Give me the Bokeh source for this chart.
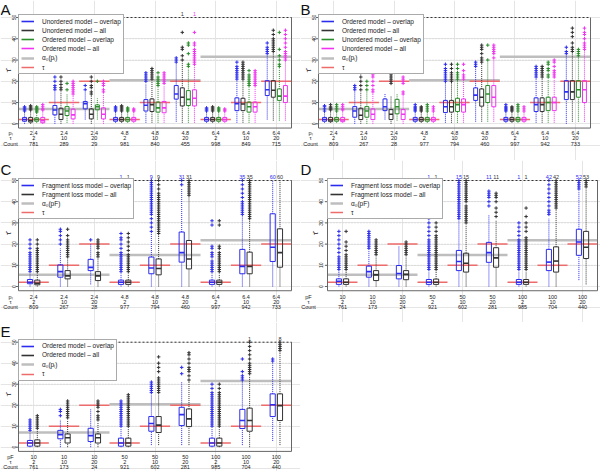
import math
from bokeh.plotting import figure
from bokeh.models import Legend, LegendItem, Range1d, Spacer
from bokeh.layouts import row, column
from bokeh.embed import file_html
from bokeh.resources import INLINE
from bokeh.core.properties import value

FONT = "Liberation Sans"

# ---------------- data ----------------
PL_AB = ["2.4", "2.4", "2.4", "4.8", "4.8", "4.8", "6.4", "6.4", "6.4"]
PF_DE = ["10", "10", "10", "50", "50", "50", "100", "100", "100"]
TAU = [2, 10, 20, 2, 10, 20, 2, 10, 20]
COUNT_A = [781, 289, 29, 981, 840, 455, 998, 849, 715]
COUNT_BC = [809, 267, 28, 977, 794, 460, 997, 942, 733]
COUNT_DE = [761, 173, 24, 921, 602, 281, 985, 704, 440]
ALPHA_ABE = [7.0, 20.5, 31.5]
ALPHA_CD = [5.5, 14.8, 21.8]
YTICKS = [0, 10, 20, 30, 40, 50]
GRID_Y = [10, 20, 30, 40]

# box stats per group: (low whisker, q1, median, q3, high whisker)
A_UO = [(0, 1.2, 2, 3, 5.5), (0, 4.2, 6.5, 8.6, 15), (2, 7, 9.5, 10.5, 15), (0.5, 1.2, 2, 3, 5.5), (0.5, 6, 8.7, 11.4, 19),
        (1, 11.6, 14, 18, 28), (0.5, 1.2, 2, 3, 5.5), (0.5, 6.2, 9.5, 12.2, 20), (2, 13.3, 16, 20.3, 32)]
A_UO_OUT = [[6, 6.5, 7, 7.5, 8], [16, 17, 18, 20, 22], [16, 18], [6, 6.5, 7, 7.5, 8], [20, 21, 22, 23, 24],
            [29, 30, 31], [6, 6.5, 7, 7.5], [21, 22, 23, 24, 25, 26, 27, 29], [33, 34, 35, 36, 38]]
A_UA = [(0, 0.8, 1.5, 3, 6), (0, 2, 4.5, 7.3, 15), (0, 2.3, 4.5, 7, 13), (0.5, 1.2, 2, 3, 5.5), (0.5, 5.8, 9, 11.7, 20),
        (0.5, 8.4, 12.5, 16.9, 29), (0.5, 1.2, 2, 3, 5.5), (0.5, 6.2, 9.3, 12, 20), (1.5, 12.5, 15.8, 20.3, 33)]
A_UA_OUT = [[6.5, 7, 7.5, 8, 8.5], [16, 17, 18.5, 20, 22], [14, 15, 17, 18, 20, 22], [6, 6.5, 7, 7.5, 8, 8.5],
            [21, 22, 23, 24, 25, 26], [30, 32, 35, 36, 43], [6, 6.5, 7, 7.5, 8],
            [21, 22, 23, 24, 25, 26, 27, 28, 29], [34, 35, 36, 37, 38, 39, 40, 42, 44]]
A_OO = [(0.5, 1.2, 2, 2.8, 5), (0.5, 3.9, 6, 8.1, 14), (2, 6.6, 8, 8.9, 12), (0.5, 1.2, 2, 3, 5.5), (0.5, 5.5, 7.5, 10.2, 17),
        (0.5, 8.6, 11.5, 15.6, 26), (0.5, 1.2, 2, 3, 5.5), (0.5, 5.5, 8, 10.2, 17), (1.5, 11, 13, 16.4, 26)]
A_OO_OUT = [[5.5, 6, 6.5, 7, 7.5, 8], [16, 19], [20], [6, 6.5, 7, 7.5], [18, 19, 20, 21, 22, 24],
            [27, 28, 33, 37, 38], [6, 6.5, 7, 7.5], [18, 19, 20, 21, 22, 23, 25], [27, 28, 30, 32, 35, 43]]
A_OA = [(0, 0.5, 1.5, 3, 6), (0, 2.3, 4.2, 6.9, 13), (0, 2.3, 4.5, 7.5, 14), (0.5, 1.2, 2, 3, 5.5), (0.5, 5.2, 7.5, 10.5, 18),
        (0.5, 8.4, 12, 16, 27), (0.5, 1.2, 2, 3, 5.5), (0.5, 5.5, 8, 10.2, 17), (1.5, 10, 13, 18, 29)]
A_OA_OUT = [[6.5, 7, 8, 9], [14, 15, 16, 17, 18, 19, 20], [15, 16, 18, 19, 20], [6, 6.5, 7], [19, 20, 21, 22, 23, 24],
            [28, 29, 30, 31, 32, 33, 34, 35, 37, 38, 43], [6, 6.5, 7], [18, 19, 20, 21, 22, 23, 24, 25],
            [30, 31, 32, 33, 34, 36, 38, 40, 42, 44]]
A_TOP_UA = ["", "", "", "", "", "1", "", "", ""]
A_TOP_OA = ["", "", "", "", "", "1", "", "", ""]

B_OO = [(0.5, 1.2, 2, 3, 5.5), (0, 3.1, 6, 8.1, 15), (2, 6.2, 8, 11.7, 14), (0.5, 1.2, 2, 3, 5.5), (0.5, 5.3, 8, 11, 19),
        (1, 11, 13.5, 16.9, 26), (0.5, 1.2, 2, 3, 5.5), (0.5, 5.8, 9, 12.2, 21), (0, 11.4, 15, 20.3, 32)]
B_OO_OUT = [[6, 7, 8, 8.5], [16, 17, 18], [], [6, 6.5, 7, 7.5, 8, 9], [20, 21, 22, 23, 24, 25, 26, 28], [27, 28, 29],
            [6, 6.5, 7, 7.5, 8, 9], [22, 23, 24, 25, 26, 27], [33, 34, 36]]
B_OA = [(0.5, 1, 1.8, 3, 6), (0, 2, 4, 7.3, 15), (0, 2, 4.5, 6.7, 13), (0.5, 1.2, 2, 3, 5.5), (0.5, 5.5, 8, 11, 19),
        (1, 8.3, 12.5, 16.4, 28), (0.5, 1.2, 2, 3, 5.5), (0.5, 5.8, 9, 12.2, 21), (1, 11.4, 15, 20.3, 33)]
B_OA_OUT = [[6.5, 7, 7.5, 8, 9], [16, 18, 20, 22, 24], [19, 20, 21, 22, 23, 25], [6, 6.5, 7, 7.5, 8],
            [20, 21, 22, 23, 24, 26, 28], [29, 30, 31, 33, 35, 36, 37], [6, 6.5, 7, 7.5, 8], [22, 23, 24, 25, 26, 27],
            [34, 35, 36, 38, 41, 43, 45]]
B_UO = [(0.5, 1.2, 2, 3, 5.5), (0, 3.1, 6, 8.1, 15), (1.5, 4.7, 8, 11.5, 14), (0.5, 1.2, 2, 3, 5.5), (0.5, 5.8, 9, 12, 20),
        (1, 10, 14, 18, 29), (0.5, 1.2, 2, 3, 5.5), (0.5, 6.2, 10, 12.5, 21), (1, 12.5, 16, 20.3, 31)]
B_UO_OUT = [[6, 7, 8, 9], [16, 18, 20], [], [6, 7, 8, 9], [21, 22, 23, 24, 26, 28], [30, 37], [6, 7, 8, 9],
            [22, 23, 25, 26, 28, 29], [32, 33, 34, 35]]
B_UA = [(0.5, 1, 1.8, 3, 6), (0, 2, 4.5, 7, 14), (0, 2, 4.5, 6.7, 13), (0.5, 1.2, 2, 3, 5.5), (0.5, 5.5, 9, 11.7, 20),
        (1, 8, 12.5, 18, 30), (0.5, 1.2, 2, 3, 5.5), (0.5, 6.2, 10, 12.5, 21), (1, 10, 16, 20.3, 34)]
B_UA_OUT = [[6.5, 7, 8, 9], [15, 16, 18, 20, 22, 23], [14, 15, 19, 20, 21, 22, 25], [6, 7, 8], [21, 22, 23, 25, 28],
            [31, 33, 34, 35, 36, 37], [6, 7, 8], [22, 23, 24, 25, 27, 29, 30], [35, 36, 37, 38, 40, 42, 43, 45]]

C_FO = [(0, 1.3, 2, 3.3, 6), (0, 4.4, 7, 10.2, 18), (1, 7.5, 9, 12.8, 20), (0, 1, 2, 3, 6), (0, 6, 8.7, 13.9, 25),
        (0, 11.5, 16, 25.7, 46), (0, 1, 2, 3, 6), (0, 6, 9.5, 17.5, 33), (0, 11.8, 18.5, 34.3, 50)]
C_FO_OUT = [[7, 8, 9, 10, 11, 12, 13, 14, 15, 16, 18, 20, 22], [20, 22, 24, 26, 27], [22],
            [7, 8, 9, 10, 11, 12, 13, 14, 15, 16, 18, 20, 22, 23, 25, 40],
            [26, 28, 30, 32, 34, 35, 36, 37, 38, 39, 40, 41, 42, 43, 44, 45, 46, 47, 48, 49, 50], [48, 50],
            [7, 8, 9, 10, 11, 12, 14, 15, 16, 18, 19, 29, 31], [34, 35, 36, 37, 38, 39, 40, 42, 44, 46, 48, 50], []]
C_FA = [(0, 0.8, 1.5, 3, 6), (0, 3.6, 5, 7.5, 13), (0, 2.8, 5, 7, 13), (0, 1, 2, 3, 6), (0, 5.5, 8.5, 13, 24),
        (0, 8.3, 13, 21.7, 42), (0, 1, 2, 3, 6), (0, 6, 9.5, 16.2, 31), (0, 9.1, 16, 27.2, 50)]
C_FA_OUT = [[7, 8, 9, 10, 11, 12, 13, 14, 15, 16, 17, 18, 20, 22], [14, 15, 16, 17, 18, 19, 20, 21, 22, 24, 27],
            [14, 15, 16, 18, 19, 20, 21, 22], [7, 8, 9, 10, 11, 12, 13, 14, 15, 17, 19, 21, 23, 25, 40],
            [25, 26, 27, 28, 29, 30, 31, 32, 33, 34, 35, 36, 37, 38, 39, 40, 41, 42, 43, 44, 46, 48, 50],
            [43, 44, 45, 46, 47, 48, 49, 50], [7, 8, 9, 10, 11, 12, 13, 14, 15, 16, 18, 19, 29, 31],
            [32, 33, 34, 35, 36, 37, 38, 39, 40, 41, 42, 43, 44, 45, 46, 47, 48, 49, 50], []]
C_TOP_FO = ["", "", "", "1", "9", "31", "", "35", "60"]
C_TOP_FA = ["", "", "", "1", "9", "31", "", "35", "60"]

D_FO = [(0, 1, 2.5, 3.6, 7), (0, 4.4, 7, 9.6, 17), (0, 3.6, 6.1, 9.9, 19), (0, 1, 2, 3.3, 7), (0, 7.5, 11.8, 17, 31),
        (0, 11.4, 16, 20.8, 34), (0, 1, 2, 3.3, 7), (0, 7.5, 11.5, 17.5, 32), (3, 14.7, 21, 27, 45)]
D_FO_OUT = [[8, 9, 10, 11, 12, 13, 14, 16, 18, 20, 22, 24, 26], [18, 19, 20, 21, 22, 23, 24, 25, 26], [],
            [8, 9, 10, 11, 12, 13, 14, 15, 16, 17, 18, 19, 20, 21, 22, 24, 26, 28, 30, 32, 36, 40, 42],
            [32, 33, 34, 35, 36, 37, 38, 39, 40, 41, 42, 43, 44, 45, 46, 47, 48, 49, 50], [38, 40, 42, 43, 44, 45],
            [8, 9, 10, 11, 12, 13, 14, 15, 16, 17, 18, 19, 20, 21, 22, 24, 26, 28, 30],
            [34, 35, 36, 38, 40, 42, 44, 46, 48, 50], [46, 47, 48, 49, 50]]
D_FA = [(0, 1, 2, 3.6, 7), (0, 2.8, 5.5, 7.5, 14), (0, 3.2, 5.7, 7.5, 14), (0, 1, 2, 3.5, 7), (0, 6.8, 11, 15.7, 29),
        (0, 9.1, 13.5, 18.3, 31), (0, 1, 2, 3.3, 7), (0, 6.8, 12, 18.7, 36), (1, 13.2, 18.5, 26, 46)]
D_FA_OUT = [[8, 9, 10, 11, 12, 13, 14, 15, 17, 19, 21, 26], [15, 16, 17, 18, 19, 20, 21, 22],
            [15, 16, 17, 18, 19, 20, 21],
            [8, 9, 10, 11, 12, 13, 14, 15, 16, 17, 18, 19, 20, 21, 22, 23, 24, 26, 28, 30, 33, 38, 40, 43],
            [30, 31, 32, 33, 34, 35, 36, 37, 38, 40, 41, 42, 43, 44, 45, 46, 47, 48, 49, 50],
            [33, 35, 37, 40, 42, 43, 44],
            [8, 9, 10, 11, 12, 13, 14, 15, 16, 17, 18, 19, 20, 21, 22, 23, 26, 28, 30, 33, 37],
            [37, 38, 39, 40, 41, 42, 43, 44, 45, 46, 47, 48, 49, 50], [47, 48, 49, 50]]
D_TOP_FO = ["", "", "", "1", "15", "11", "1", "42", "52"]
D_TOP_FA = ["", "", "", "1", "15", "11", "1", "42", "53"]

E_OO = [(0, 0.5, 2, 3.2, 7), (0, 4, 6, 8, 13), (0, 2.7, 5.5, 9, 18), (0, 0.5, 2, 4.3, 9), (1, 7.6, 11.3, 14.6, 25),
        (1, 10.3, 15.5, 19, 31), (0, 0.5, 2, 4.3, 9), (1, 8.9, 12.7, 18, 31), (3, 14.6, 20.2, 25.4, 40)]
E_OO_OUT = [[8, 9, 10, 11, 12, 13], [15, 17, 18], [], [10, 11, 12, 13, 14, 15, 16, 17, 18, 19, 20, 21, 22],
            [26, 27, 28, 29, 30, 31], [35, 38],
            [10, 11, 12, 13, 14, 15, 16, 17, 18, 19, 20, 21, 22, 23, 24, 25, 26, 28, 30], [32, 33, 34, 36, 42], [41, 42]]
E_OA = [(0, 0.5, 2, 3.5, 8), (0, 2, 4.5, 6.3, 13), (0, 2, 4.5, 6.3, 12), (0, 0.5, 2, 4.3, 9), (1, 7, 10.5, 14.6, 25),
        (1, 9.8, 13.5, 18.2, 31), (0, 0.5, 2, 4.3, 9), (0, 7.6, 12.7, 18.6, 34), (1, 12.7, 19.8, 25.4, 45)]
E_OA_OUT = [[9, 10, 11, 12, 13, 14, 15], [14, 15, 16, 17, 18, 19, 20, 21, 22], [13, 14, 15, 17, 19, 20, 21, 22],
            [10, 11, 12, 13, 14, 15, 16, 17, 18, 19, 20, 21, 22, 23, 24, 25],
            [26, 27, 28, 29, 30, 31, 32, 33, 36, 38, 40, 43], [32, 34, 36, 37, 38, 40, 42, 44, 45],
            [10, 11, 12, 13, 14, 15, 16, 17, 18, 19, 20, 21, 22, 23, 24, 25, 26, 28, 30],
            [35, 36, 37, 38, 39, 40, 42, 44, 46, 48, 50], [46, 47, 48, 49, 50]]
E_TOP_OA = ["", "", "", "", "", "", "", "1", "8"]

# ---------------- styles ----------------
BLUE = "#2C2CEE"
BLACK = "#333333"
GREEN = "#2A8C2A"
MAGENTA = "#F033F0"
RED = "#EE6B6B"
GRAY = "#BEBEBE"
OFF4 = [-0.3, -0.1, 0.1, 0.3]
OFF2 = [-0.12, 0.12]
X0, X1 = -0.5, 8.5
YLO, YHI = -2.0, 50.0


def make_panel(letter, W, H, L, fw, py50, py0, rows_py, head_cx, ytick_cx, ylab_cx,
               series, outs, colors, offsets, bw, tops, head1, row1, counts, alpha,
               leg_labels, alpha_label):
    ux = fw / (X1 - X0)
    uy = (py0 - py50) / 50.0

    def xd(px):
        return X0 + (px - L) / ux

    def yd(py):
        return (py0 - py) / uy

    p = figure(width=W, height=H, x_range=Range1d(xd(0), xd(W)), y_range=Range1d(yd(H), yd(0)),
               x_axis_location=None, y_axis_location=None, toolbar_location=None,
               output_backend="svg", min_border=0)
    p.min_border_left = p.min_border_right = p.min_border_top = p.min_border_bottom = 0
    p.outline_line_color = None
    p.background_fill_color = "white"
    p.border_fill_color = "white"

    def txt(xs, ys, texts, size, color="#222222", align="center", baseline="middle", angle=0.0):
        p.text(x=list(xs), y=list(ys), text=list(texts), text_font=value(FONT), text_font_size=size,
               text_color=color, text_align=align, text_baseline=baseline, angle=angle)

    # grid
    p.segment(x0=[X0] * len(GRID_Y), x1=[X1] * len(GRID_Y), y0=GRID_Y, y1=GRID_Y,
              line_color="#D0D0D0", line_dash="1 2", line_width=1)

    # alpha lines (one per block of three groups)
    ax0 = [3 * k - 0.5 for k in range(len(alpha))]
    ax1 = [3 * k + 2.5 for k in range(len(alpha))]
    r_alpha = p.segment(x0=ax0, x1=ax1, y0=alpha, y1=alpha, line_color=GRAY, line_width=2.5)
    # tau lines
    gx = list(range(len(TAU)))
    r_tau = p.segment(x0=[g - 0.5 for g in gx], x1=[g + 0.5 for g in gx], y0=TAU, y1=TAU,
                      line_color=RED, line_width=1.5)

    med_renderers = []
    for k, (stats, out, col, off) in enumerate(zip(series, outs, colors, offsets)):
        xs = [g + off for g in gx]
        lo = [s[0] for s in stats]
        q1 = [s[1] for s in stats]
        md = [s[2] for s in stats]
        q3 = [s[3] for s in stats]
        hi = [s[4] for s in stats]
        p.segment(x0=xs, x1=xs, y0=q3, y1=hi, line_color=col, line_dash="1 1", line_width=1)
        p.segment(x0=xs, x1=xs, y0=lo, y1=q1, line_color=col, line_dash="1 1", line_width=1)
        p.quad(left=[x - bw / 2 for x in xs], right=[x + bw / 2 for x in xs], bottom=q1, top=q3,
               fill_color=None, line_color=col, line_width=1)
        rm = p.segment(x0=[x - bw / 2 for x in xs], x1=[x + bw / 2 for x in xs], y0=md, y1=md,
                       line_color=col, line_width=1.6)
        med_renderers.append(rm)
        ox, oy = [], []
        for x, vals in zip(xs, out):
            for v in vals:
                ox.append(x)
                oy.append(v)
        p.scatter(ox, oy, marker="cross", size=3.5, line_color=col, line_width=1)
        if tops[k] is not None:
            txt(xs, [yd(py50 - 1.5)] * len(xs), tops[k], "5.5px", color=col, baseline="bottom")

    # plot box: solid sides and dotted top
    p.line(x=[X0, X0, X1, X1], y=[YHI, YLO, YLO, YHI], line_color="#666666", line_width=1)
    p.segment(x0=[X0], x1=[X1], y0=[YHI], y1=[YHI], line_color="#333333", line_dash="2 2",
              line_width=1)
    # y ticks
    p.segment(x0=[xd(L - 2.5)] * len(YTICKS), x1=[X0] * len(YTICKS), y0=YTICKS, y1=YTICKS,
              line_color="#666666", line_width=1)

    # legend (top-left corner flush with plot box)
    n = len(leg_labels) + 2
    pad, ih, sp = 2, 8, 1
    leg_h = 2 * pad + n * ih + (n - 1) * sp
    items = [LegendItem(label=lab, renderers=[r]) for lab, r in zip(leg_labels, med_renderers)]
    items.append(LegendItem(label=alpha_label, renderers=[r_alpha]))
    items.append(LegendItem(label="τ", renderers=[r_tau]))
    leg = Legend(items=items, location=(L, H - py50 - leg_h), margin=0, padding=pad, spacing=sp,
                 glyph_width=13, glyph_height=ih, label_height=ih, label_standoff=8,
                 label_text_font=FONT, label_text_font_size="6.5px", label_text_color="#222222",
                 border_line_color="#555555", border_line_width=1, background_fill_alpha=1.0)
    p.add_layout(leg)

    # y tick labels and axis label
    txt([xd(ytick_cx)] * len(YTICKS), YTICKS, [str(t) for t in YTICKS], "5px", angle=math.pi / 2)
    txt([xd(ylab_cx)], [25], ["τ̂"], "8px", angle=math.pi / 2)

    # bottom rows
    rows_txt = [row1, [str(t) for t in TAU], [str(c) for c in counts]]
    heads = [head1, "τ", "Count"]
    for py, rt, hd in zip(rows_py, rows_txt, heads):
        txt(gx, [yd(py)] * len(gx), rt, "5.5px")
        txt([xd(head_cx)], [yd(py)], [hd], "5.5px")

    # panel letter
    txt([xd(0)], [yd(0)], [letter], "15px", color="#111111", align="left", baseline="top")
    return p


pA = make_panel("A", 300, 160, 18, 273, 17, 123.3, [132.3, 137.7, 143.3], 10, 13.5, 8,
                [A_UO, A_UA, A_OO, A_OA], [A_UO_OUT, A_UA_OUT, A_OO_OUT, A_OA_OUT],
                [BLUE, BLACK, GREEN, MAGENTA], OFF4, 0.13, [None, A_TOP_UA, None, A_TOP_OA],
                "pₗ", PL_AB, COUNT_A, ALPHA_ABE,
                ["Unordered model – overlap", "Unordered model – all", "Ordered model – overlap",
                 "Ordered model – all"], "α₀(pₗ)")
pB = make_panel("B", 300, 160, 18, 272, 17, 123.3, [132.3, 137.7, 143.3], 10, 13.5, 8,
                [B_OO, B_OA, B_UO, B_UA], [B_OO_OUT, B_OA_OUT, B_UO_OUT, B_UA_OUT],
                [BLUE, BLACK, GREEN, MAGENTA], OFF4, 0.13, [None, None, None, None],
                "pₗ", PL_AB, COUNT_BC, ALPHA_ABE,
                ["Ordered model – overlap", "Ordered model – all", "Unordered model – overlap",
                 "Unordered model – all"], "α₀(pₗ)")
pC = make_panel("C", 300, 162, 18, 273, 20, 126, [136.7, 141.7, 146.7], 10, 13.5, 8,
                [C_FO, C_FA], [C_FO_OUT, C_FA_OUT], [BLUE, BLACK], OFF2, 0.17,
                [C_TOP_FO, C_TOP_FA], "pₗ", PL_AB, COUNT_BC, ALPHA_CD,
                ["Fragment loss model – overlap", "Fragment loss model – all"], "α₀(pF)")
pD = make_panel("D", 300, 162, 27, 270, 20, 126, [136.7, 141.7, 146.7], 8, 20, 15,
                [D_FO, D_FA], [D_FO_OUT, D_FA_OUT], [BLUE, BLACK], OFF2, 0.17,
                [D_TOP_FO, D_TOP_FA], "pF", PF_DE, COUNT_DE, ALPHA_CD,
                ["Fragment loss model – overlap", "Fragment loss model – all"], "α₀(pF)")
pE = make_panel("E", 300, 149, 18, 273, 19.7, 124.7, [134.7, 139.5, 144.5], 10, 13.5, 8,
                [E_OO, E_OA], [E_OO_OUT, E_OA_OUT], [BLUE, BLACK], OFF2, 0.17,
                [None, E_TOP_OA], "pF", PF_DE, COUNT_DE, ALPHA_ABE,
                ["Ordered model – overlap", "Ordered model – all"], "α₀(pₗ)")

layout = column(row(pA, pB), row(pC, pD), row(pE, Spacer(width=300, height=149)))
open("out.html", "w").write(file_html(layout, INLINE))
